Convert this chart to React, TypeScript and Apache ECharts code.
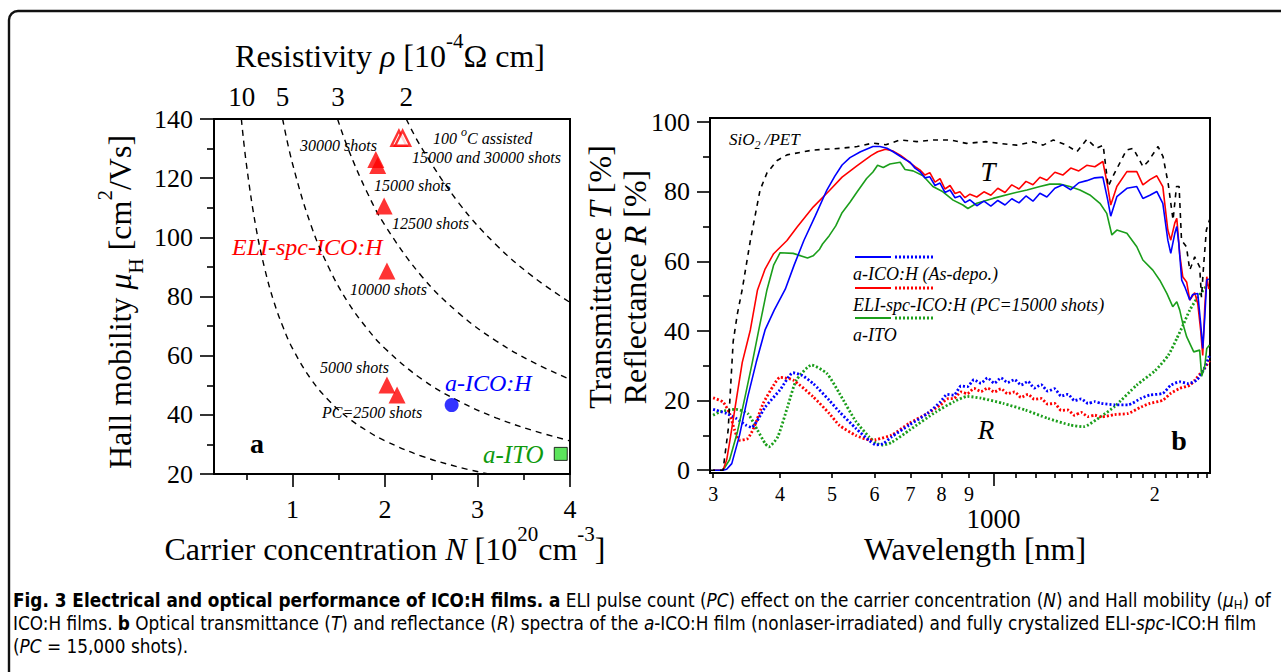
import React, { useEffect, useRef } from 'react';
import * as echarts from 'echarts';

const SERIF = '"Liberation Serif", "Times New Roman", serif';
const CAPFONT = '"DejaVu Sans Condensed", "Liberation Sans Narrow", "Open Sans", sans-serif';

// ---------- Panel a data ----------
const carrierTicks = [1, 2, 3, 4];
const carrierMinorTicks = [0.5, 1.5, 2.5, 3.5];
const resistivityLabels = ['10', '5', '3', '2'];
const resistivityLabelN = [0.45, 0.89, 1.49, 2.23];

const isoRho10 = [[0.446, 140], [0.5, 124.8], [0.6, 104], [0.7, 89.2], [0.8, 78], [0.9, 69.4], [1.0, 62.4], [1.2, 52], [1.4, 44.6], [1.6, 39], [1.8, 34.7], [2.0, 31.2], [2.4, 26], [2.8, 22.3], [3.12, 20]];
const isoRho5 = [[0.892, 140], [1.0, 124.8], [1.2, 104], [1.4, 89.2], [1.6, 78], [1.8, 69.4], [2.0, 62.4], [2.4, 52], [2.8, 44.6], [3.2, 39], [3.6, 34.7], [4.0, 31.2]];
const isoRho3 = [[1.486, 140], [1.6, 130], [1.8, 115.6], [2.0, 104], [2.4, 86.7], [2.8, 74.3], [3.2, 65], [3.6, 57.8], [4.0, 52]];
const isoRho2 = [[2.229, 140], [2.4, 130], [2.8, 111.5], [3.2, 97.5], [3.6, 86.7], [4.0, 78]];

const eliN = [1.9, 1.92, 1.99, 2.02, 2.02, 2.13];
const eliMu = [126.3, 124.3, 110.6, 88.6, 50.1, 46.7];
const assistedN = [2.15, 2.19];
const assistedMu = [133.5, 133.5];
const aIcoN = [2.72];
const aIcoMu = [43.3];
const aItoN = [3.9];
const aItoMu = [26.8];

// ---------- Panel b data ----------
const wlTickValues = [300, 400, 500, 600, 700, 800, 900, 1100, 1200, 1300, 1400, 1500, 1600, 1700, 1800, 1900, 2000, 2100, 2200, 2300, 2400, 2500];
const wlLabelValues = [300, 400, 500, 600, 700, 800, 900, 2000];
const pctTicks = [0, 20, 40, 60, 80, 100];
const pctMinorTicks = [10, 30, 50, 70, 90];

const sio2PetT = [[296, 0], [313, 0], [320, 11.5], [327, 37], [333, 45], [340, 52], [352, 66], [367, 80.5], [378, 85.4], [395, 89], [412, 90.6], [461, 92], [520, 92.5], [557, 93], [596, 94], [630, 93.5], [670, 94.9], [720, 94.4], [772, 94.9], [830, 94.9], [891, 93.9], [967, 94.4], [1028, 93.9], [1105, 93.4], [1185, 94.4], [1238, 93.4], [1293, 94.9], [1369, 93.4], [1431, 91.5], [1494, 95.1], [1557, 92.5], [1602, 93.4], [1637, 81.5], [1670, 84.4], [1771, 92], [1822, 92.5], [1902, 87.2], [1943, 88.7], [2028, 93], [2072, 90.1], [2118, 82.4], [2163, 71.9], [2195, 81.5], [2220, 81.5], [2243, 66.1], [2291, 64.2], [2324, 57.5], [2374, 61.3], [2425, 58.4], [2444, 49.7], [2468, 59.4], [2496, 69], [2530, 72]];

const blueT = [[300, 0], [313, 0], [318, 0.3], [325, 1.9], [336, 10], [348, 21], [361, 31], [375, 40.3], [390, 46], [409, 52], [425, 59], [443, 66], [465, 73], [489, 80.5], [506, 84.5], [522, 87.7], [540, 89.8], [565, 91.5], [596, 93], [614, 93], [633, 92.5], [650, 91.5], [670, 90.2], [684, 89.3], [699, 88.5], [714, 86.8], [729, 85.8], [745, 84.0], [761, 84.3], [778, 81.8], [795, 82.5], [812, 79.8], [830, 80.5], [848, 78.3], [866, 78.8], [885, 76.9], [904, 77.7], [931, 76.0], [960, 77.3], [989, 75.9], [1019, 77.5], [1051, 76.2], [1082, 78.0], [1116, 76.8], [1150, 78.8], [1185, 77.3], [1221, 79.6], [1258, 78.5], [1302, 81.0], [1347, 82.0], [1394, 80.6], [1443, 82.6], [1493, 83.2], [1546, 84.0], [1600, 84.2], [1634, 77.6], [1655, 73], [1699, 78.6], [1774, 81], [1851, 81.5], [1900, 78.1], [1958, 79], [2017, 80.1], [2070, 76.7], [2115, 66.1], [2142, 62.3], [2179, 68], [2198, 70], [2217, 65.2], [2245, 54.6], [2275, 52.7], [2324, 48.9], [2354, 50.5], [2405, 50.8], [2436, 42], [2457, 35], [2479, 44], [2500, 54.6], [2522, 55]];

const redT = [[300, 0], [313, 0], [318, 3], [322, 8], [332, 21], [340, 31], [352, 40.3], [363, 51.8], [375, 57.8], [389, 62.2], [412, 66], [430, 69.8], [461, 75.6], [494, 80.3], [522, 84.2], [557, 87.5], [591, 90.4], [608, 91.5], [629, 92.2], [650, 91.7], [670, 90.5], [684, 89.5], [699, 88.3], [714, 87.2], [729, 86.3], [745, 84.8], [761, 85.5], [778, 82.8], [795, 83.8], [812, 80.8], [830, 81.8], [848, 79.5], [866, 80.0], [885, 78.3], [904, 79.3], [931, 78.5], [960, 80.0], [989, 79.0], [1019, 81.0], [1051, 79.8], [1082, 82.0], [1116, 80.8], [1150, 83.0], [1185, 82.0], [1221, 84.2], [1258, 83.3], [1302, 85.6], [1347, 84.8], [1394, 86.8], [1443, 86.0], [1493, 87.6], [1546, 87.2], [1600, 88.7], [1634, 81.5], [1655, 76.2], [1699, 81.5], [1774, 85.8], [1851, 85.8], [1900, 82], [1958, 83.5], [2017, 84.6], [2070, 81.5], [2115, 69], [2142, 66.1], [2179, 71], [2198, 72.4], [2226, 62], [2255, 55.6], [2294, 54], [2324, 48.9], [2374, 51], [2405, 47.9], [2436, 40], [2457, 33], [2479, 47], [2500, 55.6], [2522, 52]];

const greenT = [[300, 0], [313, 0], [322, 3], [333, 11], [344, 21], [355, 31], [365, 40.3], [378, 51.8], [389, 58.9], [400, 62.5], [423, 62.3], [450, 61], [461, 61.6], [474, 63.5], [480, 65], [494, 67.4], [508, 70.2], [522, 74], [540, 77], [557, 80], [580, 83.8], [596, 85.7], [608, 87.6], [623, 87], [641, 88], [670, 88.5], [684, 86.4], [708, 86], [739, 84.6], [771, 81.5], [805, 80], [841, 77.6], [877, 76.2], [896, 75.2], [931, 76.7], [998, 78.1], [1087, 79.6], [1155, 80.5], [1221, 81.5], [1274, 82.2], [1330, 82.2], [1388, 81.5], [1450, 80.5], [1513, 79.1], [1580, 76.7], [1627, 73.8], [1663, 67.6], [1699, 69], [1774, 68.1], [1851, 64.2], [1900, 60.4], [1983, 57.5], [2043, 54.6], [2106, 50.8], [2160, 47], [2198, 48.4], [2226, 46], [2255, 42.2], [2294, 38.3], [2364, 34], [2425, 34.5], [2446, 27], [2479, 30], [2500, 35], [2530, 36]];

const blueR = [[300, 17.5], [318, 16.3], [331, 14.9], [345, 13], [354, 12.3], [365, 15], [375, 18.1], [400, 23.1], [423, 28], [440, 27.2], [461, 24.9], [494, 20.1], [516, 16.8], [554, 12], [587, 8.5], [604, 7.3], [622, 7.6], [646, 9.6], [697, 13], [753, 16.3], [797, 19.7], [820, 21.8], [844, 21.6], [870, 24.2], [894, 24], [920, 26], [948, 25], [975, 26.5], [1004, 25], [1033, 26.5], [1063, 25.2], [1095, 26], [1126, 24.5], [1160, 25.5], [1192, 23.6], [1227, 24.6], [1263, 22.7], [1300, 23.4], [1338, 21.3], [1377, 21.8], [1417, 20], [1458, 20.5], [1501, 19.2], [1545, 19.7], [1589, 19.2], [1683, 18.8], [1783, 18.8], [1888, 20.7], [1958, 21.6], [2070, 22.1], [2142, 24.4], [2226, 25.4], [2310, 24.9], [2395, 25.9], [2469, 29], [2530, 33]];

const redR = [[300, 20.8], [313, 19.6], [322, 16.3], [329, 11.5], [336, 8.6], [348, 9.1], [358, 12.5], [372, 19.2], [389, 24.4], [400, 26.7], [423, 25.9], [461, 21.1], [494, 16.3], [516, 12.9], [554, 10], [587, 8.7], [604, 8.8], [646, 10.1], [697, 13.5], [753, 16.3], [797, 18.8], [820, 20.5], [844, 20.6], [870, 22.5], [894, 22], [920, 23.5], [948, 22.6], [975, 23.6], [1004, 22.5], [1033, 23.4], [1063, 22], [1095, 22.5], [1126, 20.9], [1160, 21.8], [1192, 20.4], [1227, 20.6], [1263, 19], [1300, 19.2], [1338, 17.2], [1377, 17.3], [1417, 15.8], [1458, 16.6], [1501, 15.4], [1545, 15.8], [1589, 15.3], [1683, 16.0], [1783, 16.3], [1888, 18.2], [1958, 19.2], [2070, 20.1], [2142, 22.1], [2226, 23.5], [2324, 24.4], [2374, 25.9], [2469, 29], [2530, 31.5]];

const greenR = [[300, 15.8], [309, 16.8], [331, 17.5], [348, 16.3], [363, 11.5], [375, 7.7], [381, 6.7], [396, 9.6], [413, 18.2], [429, 25.9], [458, 30.2], [489, 27.8], [516, 22.1], [554, 14], [587, 9.5], [604, 7.8], [622, 7.2], [646, 8], [697, 11.5], [782, 16.8], [844, 19.7], [894, 21.2], [948, 20.7], [1042, 19.2], [1147, 17.3], [1263, 14.9], [1390, 13], [1472, 12.5], [1589, 15.5], [1683, 18.3], [1852, 24.5], [2000, 28.5], [2119, 33], [2200, 38], [2255, 41.5], [2324, 46], [2400, 49.5], [2500, 53], [2530, 54]];

const RED = '#ff0000';
const BLUE = '#0000ff';
const GREEN = '#1b9e1b';
const TXTGREEN = '#0f9a0f';

const zip = (a: number[], b: number[]) => a.map((v, i) => [v, b[i]]);

function tok(size: number, o: any = {}) {
  return {
    fontSize: size,
    fontFamily: o.family || SERIF,
    fontStyle: o.italic ? 'italic' : 'normal',
    fontWeight: o.bold ? 'bold' : 'normal',
    fill: o.color || '#000',
    lineHeight: o.lh || size,
    verticalAlign: o.va || 'middle',
  };
}

function txt(x: number, y: number, text: string, size: number, o: any = {}) {
  return {
    type: 'text',
    x,
    y,
    rotation: o.rotation || 0,
    silent: true,
    style: {
      text,
      fontSize: size,
      fontFamily: o.family || SERIF,
      fontStyle: o.italic ? 'italic' : 'normal',
      fontWeight: o.bold ? 'bold' : 'normal',
      fill: o.color || '#000',
      align: o.align || 'left',
      verticalAlign: 'middle',
      rich: o.rich,
    },
  };
}

const axisLineStyle = { color: '#000', width: 2 };
const tickStyle = { color: '#000', width: 1.6 };

function buildOption() {
  const graphics: any[] = [];
  // outer frame
  graphics.push({ type: 'rect', silent: true, shape: { x: 9, y: 11, width: 1400, height: 800, r: 9 }, style: { fill: 'none', stroke: '#111', lineWidth: 2.4 } });

  // Panel a titles
  graphics.push(txt(390, 56, '{n|Resistivity }{i|ρ}{n| [10}{s|-4}{n|Ω cm]}', 32, {
    align: 'center',
    rich: { n: tok(32, { lh: 52 }), i: tok(32, { italic: true, lh: 52 }), s: tok(21, { lh: 14, va: 'top' }) },
  }));
  graphics.push(txt(385, 549, '{n|Carrier concentration }{i|N}{n| [10}{s|20}{n|cm}{s|-3}{n|]}', 32, {
    align: 'center',
    rich: { n: tok(32, { lh: 52 }), i: tok(32, { italic: true, lh: 52 }), s: tok(21, { lh: 14, va: 'top' }) },
  }));
  graphics.push(txt(120, 302, '{n|Hall mobility }{i|μ}{b|H}{n| [cm}{s|2}{n|/Vs]}', 32, {
    align: 'center', rotation: Math.PI / 2,
    rich: { n: tok(32, { lh: 52 }), i: tok(32, { italic: true, lh: 52 }), s: tok(21, { lh: 14, va: 'top' }), b: tok(21, { lh: 34, va: 'bottom' }) },
  }));

  // Panel a annotations
  const note = (x: number, y: number, t: string) => graphics.push(txt(x, y, t, 16, { italic: true }));
  note(300, 145, '30000 shots');
  graphics.push(txt(433, 138, '{i|100 }{s|o}{i|C assisted}', 16, {
    rich: { i: tok(16, { italic: true, lh: 24 }), s: tok(12, { italic: true, lh: 10, va: 'top' }) },
  }));
  note(412, 157, '15000 and 30000 shots');
  note(374, 185, '15000 shots');
  note(392, 223, '12500 shots');
  note(350, 289, '10000 shots');
  note(320, 367, '5000 shots');
  note(322, 412, 'PC=2500 shots');
  graphics.push(txt(232, 247, 'ELI-spc-ICO:H', 24, { italic: true, color: RED }));
  graphics.push(txt(445, 383, 'a-ICO:H', 24, { italic: true, color: BLUE }));
  graphics.push(txt(483, 454, 'a-ITO', 25, { italic: true, color: TXTGREEN }));
  graphics.push(txt(257, 443, 'a', 28, { bold: true, align: 'center' }));

  // Panel b titles
  graphics.push(txt(600, 277, '{n|Transmittance }{i|T}{n| [%]}', 32, {
    align: 'center', rotation: Math.PI / 2,
    rich: { n: tok(32), i: tok(32, { italic: true }) },
  }));
  graphics.push(txt(635, 287, '{n|Reflectance }{i|R}{n| [%]}', 32, {
    align: 'center', rotation: Math.PI / 2,
    rich: { n: tok(32), i: tok(32, { italic: true }) },
  }));
  graphics.push(txt(975, 549, 'Wavelength [nm]', 32, { align: 'center' }));

  // Panel b annotations
  graphics.push(txt(729, 139, '{i|SiO}{b|2}{i| /PET}', 17, {
    rich: { i: tok(17, { italic: true, lh: 24 }), b: tok(12, { italic: true, lh: 12, va: 'bottom' }) },
  }));
  graphics.push(txt(988, 172, 'T', 27, { italic: true, align: 'center' }));
  graphics.push(txt(986, 430, 'R', 27, { italic: true, align: 'center' }));
  graphics.push(txt(1179, 440, 'b', 28, { bold: true, align: 'center' }));

  // legend
  const legendRows = [
    { color: BLUE, y: 257, label: 'a-ICO:H (As-depo.)' },
    { color: RED, y: 288, label: 'ELI-spc-ICO:H (PC=15000 shots)' },
    { color: GREEN, y: 318, label: 'a-ITO' },
  ];
  legendRows.forEach((r) => {
    graphics.push({ type: 'line', silent: true, shape: { x1: 855, y1: r.y, x2: 891, y2: r.y }, style: { stroke: r.color, lineWidth: 1.8 } });
    graphics.push({ type: 'line', silent: true, shape: { x1: 895, y1: r.y, x2: 934, y2: r.y }, style: { stroke: r.color, lineWidth: 2.8, lineDash: [2, 2] } });
    graphics.push(txt(853, r.y + 17, r.label, 18, { italic: true }));
  });

  // Caption
  const CS = 18.8;
  const cr = {
    b: tok(CS, { family: CAPFONT, bold: true, lh: 22 }),
    r: tok(CS, { family: CAPFONT, lh: 22 }),
    i: tok(CS, { family: CAPFONT, italic: true, lh: 22 }),
    sub: tok(13, { family: CAPFONT, lh: 12, va: 'bottom' }),
  };
  graphics.push(txt(13, 600, '{b|Fig. 3 Electrical and optical performance of ICO:H films. a}{r| ELI pulse count (}{i|PC}{r|) effect on the carrier concentration (}{i|N}{r|) and Hall mobility (}{i|μ}{sub|H}{r|) of}', CS, { family: CAPFONT, rich: cr }));
  graphics.push(txt(13, 623, '{r|ICO:H films. }{b|b}{r| Optical transmittance (}{i|T}{r|) and reflectance (}{i|R}{r|) spectra of the }{i|a}{r|-ICO:H film (nonlaser-irradiated) and fully crystalized ELI-}{i|spc}{r|-ICO:H film}', CS, { family: CAPFONT, rich: cr }));
  graphics.push(txt(13, 646, '{r|(}{i|PC}{r| = 15,000 shots).}', CS, { family: CAPFONT, rich: cr }));

  const isoStyle = { color: '#000', width: 1.4, type: [6, 5] as any };
  const isoSeries = [isoRho10, isoRho5, isoRho3, isoRho2].map((d) => ({
    type: 'line', xAxisIndex: 0, yAxisIndex: 0, data: d, showSymbol: false, symbol: 'none', smooth: 0.4, silent: true,
    lineStyle: isoStyle, z: 1,
  }));

  const tLine = (data: any, color: string) => ({
    type: 'line', xAxisIndex: 3, yAxisIndex: 1, data, showSymbol: false, symbol: 'none', silent: true,
    lineStyle: { color, width: 1.6 }, z: 3,
  });
  const rLine = (data: any, color: string) => ({
    type: 'line', xAxisIndex: 3, yAxisIndex: 1, data, showSymbol: false, symbol: 'none', silent: true, smooth: 0.2,
    lineStyle: { color, width: 2.8, type: [2, 2] }, z: 2,
  });

  return {
    animation: false,
    backgroundColor: '#fff',
    grid: [
      { left: 214, top: 119, width: 356, height: 355, show: true, borderColor: '#000', borderWidth: 2, backgroundColor: 'transparent' },
      { left: 710, top: 118, width: 500, height: 355, show: true, borderColor: '#000', borderWidth: 2, backgroundColor: 'transparent' },
    ],
    xAxis: [
      {
        gridIndex: 0, type: 'value', min: 0.15, max: 4, position: 'bottom',
        axisLine: { show: true, onZero: false, lineStyle: axisLineStyle },
        axisTick: { show: true, customValues: carrierTicks, length: 13, lineStyle: tickStyle },
        axisLabel: { customValues: carrierTicks, fontSize: 26, fontFamily: SERIF, color: '#000', margin: 22 },
        splitLine: { show: false },
      },
      {
        gridIndex: 0, type: 'value', min: 0.15, max: 4, position: 'bottom',
        axisLine: { show: false, onZero: false },
        axisTick: { show: true, customValues: carrierMinorTicks, length: 6, lineStyle: tickStyle },
        axisLabel: { show: false },
        splitLine: { show: false },
      },
      {
        gridIndex: 0, type: 'value', min: 0.15, max: 4, position: 'top',
        axisLine: { show: false, onZero: false },
        axisTick: { show: false },
        axisLabel: {
          customValues: resistivityLabelN, fontSize: 27, fontFamily: SERIF, color: '#000', margin: 9,
          formatter: (v: number) => {
            const i = resistivityLabelN.findIndex((n) => Math.abs(n - v) < 1e-6);
            return i >= 0 ? resistivityLabels[i] : '';
          },
        },
        splitLine: { show: false },
      },
      {
        gridIndex: 1, type: 'log', logBase: 10, min: 296, max: 2535, position: 'bottom',
        axisLine: { show: true, onZero: false, lineStyle: axisLineStyle },
        axisTick: { show: true, customValues: wlTickValues, length: 5, lineStyle: tickStyle },
        axisLabel: {
          customValues: wlLabelValues, fontSize: 20, fontFamily: SERIF, color: '#000', margin: 11,
          formatter: (v: number) => (v >= 1000 ? String(Math.round(v / 1000)) : String(Math.round(v / 100))),
        },
        splitLine: { show: false }, minorTick: { show: false },
      },
      {
        gridIndex: 1, type: 'log', logBase: 10, min: 296, max: 2535, position: 'bottom',
        axisLine: { show: false, onZero: false },
        axisTick: { show: true, customValues: [1000], length: 13, lineStyle: tickStyle },
        axisLabel: { customValues: [1000], fontSize: 27, fontFamily: SERIF, color: '#000', margin: 32, formatter: (v: number) => String(Math.round(v)) },
        splitLine: { show: false },
      },
    ],
    yAxis: [
      {
        gridIndex: 0, type: 'value', min: 20, max: 140, interval: 20, position: 'left',
        axisLine: { show: true, onZero: false, lineStyle: axisLineStyle },
        axisTick: { show: true, length: 14, lineStyle: tickStyle },
        minorTick: { show: true, splitNumber: 2, length: 7, lineStyle: tickStyle },
        axisLabel: { fontSize: 26, fontFamily: SERIF, color: '#000', margin: 21 },
        splitLine: { show: false },
      },
      {
        gridIndex: 1, type: 'value', min: -0.8, max: 101.2, position: 'left',
        axisLine: { show: true, onZero: false, lineStyle: axisLineStyle },
        axisTick: { show: true, customValues: pctTicks, length: 13, lineStyle: tickStyle },
        axisLabel: { customValues: pctTicks, fontSize: 26, fontFamily: SERIF, color: '#000', margin: 20 },
        splitLine: { show: false },
      },
      {
        gridIndex: 1, type: 'value', min: -0.8, max: 101.2, position: 'left',
        axisLine: { show: false, onZero: false },
        axisTick: { show: true, customValues: pctMinorTicks, length: 7, lineStyle: tickStyle },
        axisLabel: { show: false },
        splitLine: { show: false },
      },
    ],
    series: [
      ...isoSeries,
      {
        type: 'scatter', xAxisIndex: 0, yAxisIndex: 0, data: zip(eliN, eliMu), symbol: 'triangle', symbolSize: 17,
        itemStyle: { color: RED }, z: 5, silent: true,
      },
      {
        type: 'scatter', xAxisIndex: 0, yAxisIndex: 0, data: zip(assistedN, assistedMu), symbol: 'triangle', symbolSize: 15,
        itemStyle: { color: '#fff', borderColor: RED, borderWidth: 2.4 }, z: 5, silent: true,
      },
      {
        type: 'scatter', xAxisIndex: 0, yAxisIndex: 0, data: zip(aIcoN, aIcoMu), symbol: 'circle', symbolSize: 14,
        itemStyle: { color: BLUE }, z: 5, silent: true,
      },
      {
        type: 'scatter', xAxisIndex: 0, yAxisIndex: 0, data: zip(aItoN, aItoMu), symbol: 'rect', symbolSize: 13,
        itemStyle: { color: '#33dd33', borderColor: '#000', borderWidth: 1 }, z: 5, silent: true,
      },
      {
        type: 'line', xAxisIndex: 3, yAxisIndex: 1, data: sio2PetT, showSymbol: false, symbol: 'none', silent: true,
        lineStyle: { color: '#000', width: 1.6, type: [5, 5] }, z: 4,
      },
      rLine(greenR, GREEN),
      rLine(redR, RED),
      rLine(blueR, BLUE),
      tLine(greenT, GREEN),
      tLine(redT, RED),
      tLine(blueT, BLUE),
    ],
    graphic: graphics,
  };
}

export default function App() {
  const ref = useRef<HTMLDivElement>(null);
  useEffect(() => {
    if (!ref.current) return;
    const chart = echarts.init(ref.current, null, { renderer: 'svg' });
    chart.setOption(buildOption() as any);
    return () => chart.dispose();
  }, []);
  return <div ref={ref} style={{ position: 'fixed', left: 0, top: 0, width: 1281, height: 672, background: '#fff' }} />;
}
